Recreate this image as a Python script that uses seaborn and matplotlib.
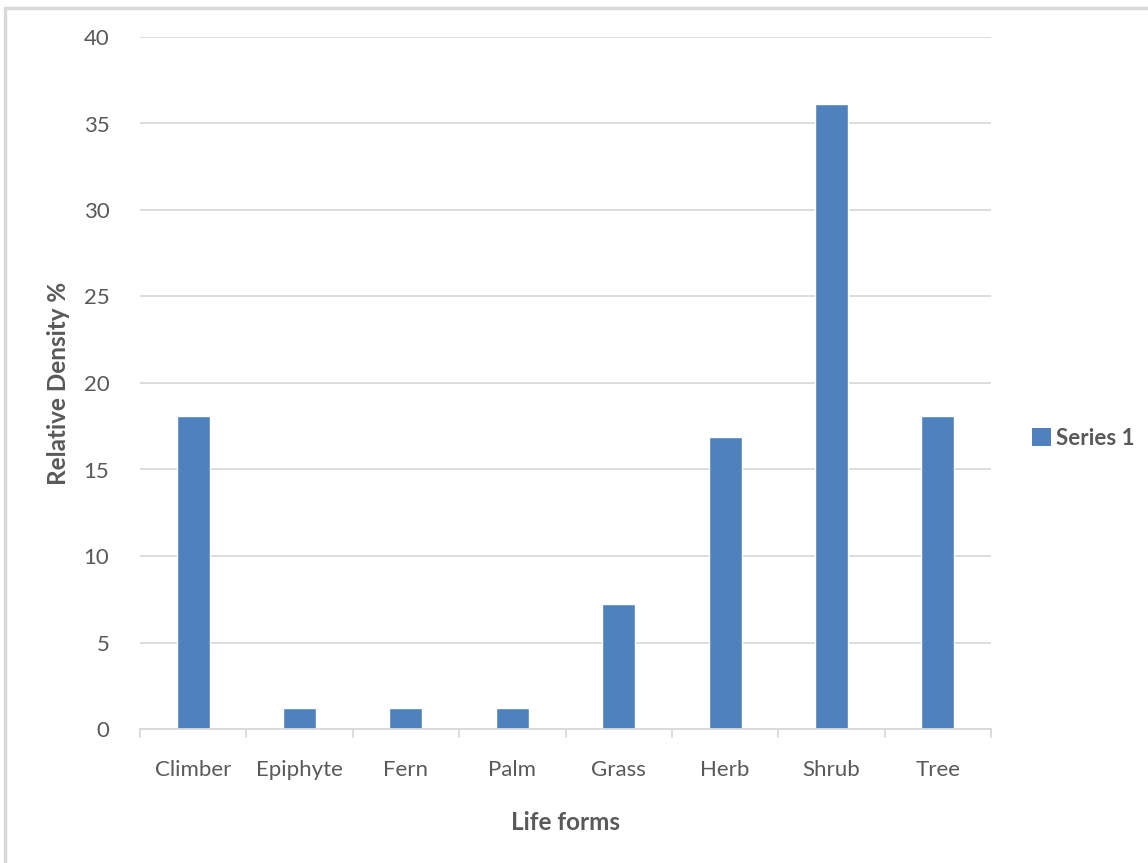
import matplotlib
matplotlib.use("Agg")
import matplotlib.pyplot as plt
import seaborn as sns
import pandas as pd
from matplotlib.patches import Rectangle, Patch

# Relative density (%) of each life form
life_forms = ["Climber", "Epiphyte", "Fern", "Palm", "Grass", "Herb", "Shrub", "Tree"]
density = [18.07, 1.20, 1.20, 1.20, 7.23, 16.87, 36.14, 18.07]
y_ticks = [0, 5, 10, 15, 20, 25, 30, 35, 40]

df = pd.DataFrame({"Life form": life_forms, "Relative Density": density})

sns.set_theme(style="white")
plt.rcParams["font.family"] = ["Lato", "DejaVu Sans"]

text_color = "#595959"
grid_color = "#d9d9d9"
bar_color = "#4f81bd"

W, H = 1148, 863
fig = plt.figure(figsize=(W / 100, H / 100), dpi=100)
ax = fig.add_axes([140 / W, 1 - 729 / H, (991 - 140) / W, (729 - 37) / H])

sns.barplot(data=df, x="Life form", y="Relative Density", color=bar_color,
            width=0.31, saturation=1, ax=ax, legend=False)

ax.set_ylim(0, 40)
ax.set_xlim(-0.5, len(life_forms) - 0.5)
ax.set_yticks(y_ticks)
ax.set_yticklabels([str(v) for v in y_ticks])
ax.yaxis.grid(True, color=grid_color, linewidth=1.3)
ax.set_axisbelow(True)

for s in ["top", "right", "left"]:
    ax.spines[s].set_visible(False)
ax.spines["bottom"].set_color(grid_color)
ax.spines["bottom"].set_linewidth(1.3)

# category boundary ticks on the x axis
ax.set_xticks(range(len(life_forms)))
ax.set_xticklabels(life_forms)
ax.tick_params(axis="x", length=0, pad=22.5, labelsize=16, colors=text_color)
ax.tick_params(axis="y", length=0, pad=22, labelsize=16, colors=text_color)
for b in range(len(life_forms) + 1):
    ax.plot([b - 0.5, b - 0.5], [0, -0.45], color=grid_color, lw=1.3,
            clip_on=False, transform=ax.transData)

ax.set_xlabel("Life forms", fontsize=17.5, fontweight="bold", color=text_color, labelpad=22)
ax.set_ylabel("Relative Density %", fontsize=17.5, fontweight="bold", color=text_color, labelpad=10)

handles = [Patch(facecolor=bar_color, edgecolor="none", label="Series 1")]
fig.legend(handles=handles, loc="center left", bbox_to_anchor=(1012 / W, 1 - 438 / H),
           frameon=False, handlelength=0.85, handleheight=0.85, handletextpad=0.25,
           prop={"weight": "bold", "size": 16}, labelcolor=text_color)

# chart outer frame
fig.patches.append(Rectangle((5 / W, -0.1), 1.2, 1 - 8 / H + 0.1, transform=fig.transFigure,
                             fill=False, edgecolor="#d9d9d9", linewidth=2.5))

fig.savefig("out.png", dpi=100)
